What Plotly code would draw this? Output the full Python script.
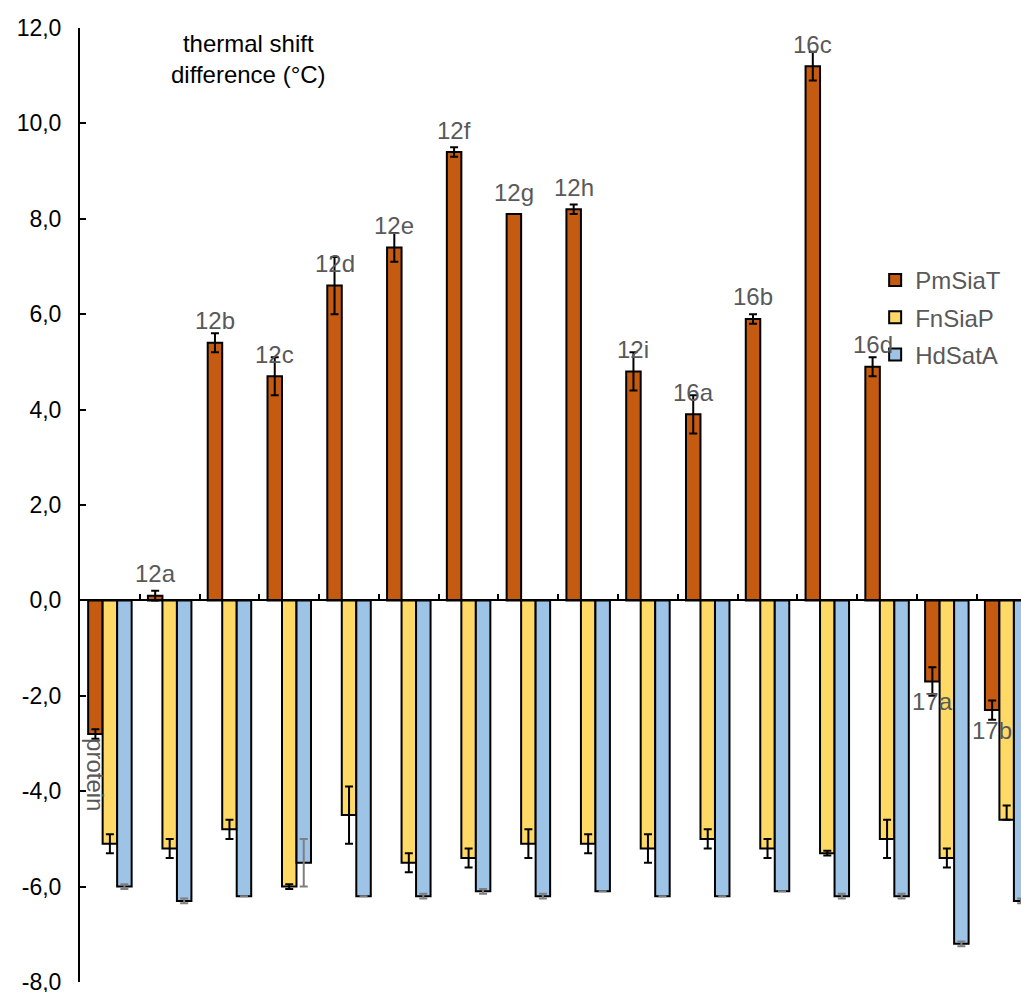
import plotly.graph_objects as go

# Ligands tested against three sialic-acid binding proteins
compounds = ["protein", "12a", "12b", "12c", "12d", "12e", "12f", "12g",
             "12h", "12i", "16a", "16b", "16c", "16d", "17a", "17b"]

pmsiat = [-2.8, 0.1, 5.4, 4.7, 6.6, 7.4, 9.4, 8.1, 8.2, 4.8, 3.9, 5.9, 11.2, 4.9, -1.7, -2.3]
pmsiat_err = [0.1, 0.1, 0.2, 0.4, 0.6, 0.3, 0.1, None, 0.1, 0.4, 0.4, 0.1, 0.3, 0.2, 0.3, 0.2]

fnsiap = [-5.1, -5.2, -4.8, -6.0, -4.5, -5.5, -5.4, -5.1, -5.1, -5.2, -5.0, -5.2, -5.3, -5.0, -5.4, -4.6]
fnsiap_err_up = [0.2, 0.2, 0.2, 0.05, 0.6, 0.2, 0.2, 0.3, 0.2, 0.3, 0.2, 0.2, 0.05, 0.4, 0.2, 0.3]
fnsiap_err_down = [0.2, 0.2, 0.2, 0.05, 0.6, 0.2, 0.2, 0.3, 0.2, 0.3, 0.2, 0.2, 0.05, 0.4, 0.2, 0.0]

hdsata = [-6.0, -6.3, -6.2, -5.5, -6.2, -6.2, -6.1, -6.2, -6.1, -6.2, -6.2, -6.1, -6.2, -6.2, -7.2, -6.3]
hdsata_err = [0.05, 0.05, None, 0.5, None, 0.05, 0.05, 0.05, None, None, None, None, 0.05, 0.05, 0.05, 0.05]

y_ticks = [-8, -6, -4, -2, 0, 2, 4, 6, 8, 10, 12]
y_tick_text = ["-8,0", "-6,0", "-4,0", "-2,0", "0,0", "2,0", "4,0", "6,0", "8,0", "10,0", "12,0"]

FONT = "Liberation Sans, Arial, Helvetica, sans-serif"
LABEL_GREY = "#595959"
BAR_GAP = 0.2725

fig = go.Figure()

fig.add_trace(go.Bar(
    name="PmSiaT", x=compounds, y=pmsiat,
    marker=dict(color="#C55A11", line=dict(color="black", width=2)),
    error_y=dict(type="data", array=pmsiat_err, color="black", thickness=2, width=4),
    legendgroup="a",
))
fig.add_trace(go.Bar(
    name="FnSiaP", x=compounds, y=fnsiap,
    marker=dict(color="#FFD966", line=dict(color="black", width=2)),
    error_y=dict(type="data", symmetric=False, array=fnsiap_err_up,
                 arrayminus=fnsiap_err_down, color="black", thickness=2, width=4),
    legendgroup="b",
))
fig.add_trace(go.Bar(
    name="HdSatA", x=compounds, y=hdsata,
    marker=dict(color="#9DC3E6", line=dict(color="black", width=2)),
    error_y=dict(type="data", array=hdsata_err, color="#7F7F7F", thickness=2, width=4),
    legendgroup="c",
))

# Compound names sit over (or under) the PmSiaT bar of each group
orange_offset = (1 - BAR_GAP) / 3
label_font = dict(family=FONT, size=24, color=LABEL_GREY)
annotations = []
for i, (name, v) in enumerate(zip(compounds, pmsiat)):
    if name == "protein":
        annotations.append(dict(
            x=i - orange_offset, y=v, xref="x", yref="y", text=name,
            textangle=90, showarrow=False, yanchor="top", yshift=-2,
            font=label_font))
    elif v >= 0:
        annotations.append(dict(
            x=i - orange_offset, y=v, xref="x", yref="y", text=name,
            showarrow=False, yanchor="middle", yshift=22, font=label_font))
    else:
        annotations.append(dict(
            x=i - orange_offset, y=v, xref="x", yref="y", text=name,
            showarrow=False, yanchor="middle", yshift=-20, font=label_font))

# Two-line axis caption inside the plot area
annotations.append(dict(
    x=0.179, y=0.967, xref="paper", yref="paper",
    text="thermal shift<br>difference (°C)", showarrow=False,
    xanchor="center", yanchor="middle", align="center",
    font=dict(family=FONT, size=24, color="black")))

fig.update_layout(
    width=1021, height=992,
    margin=dict(l=80, r=0, t=28, b=10, autoexpand=False),
    paper_bgcolor="white", plot_bgcolor="white",
    barmode="group", bargap=BAR_GAP, bargroupgap=0,
    font=dict(family=FONT, size=23, color="black"),
    showlegend=True,
    legend=dict(x=0.845, y=0.759, xanchor="left", yanchor="top",
                font=dict(family=FONT, size=24, color=LABEL_GREY),
                bgcolor="rgba(0,0,0,0)", tracegroupgap=3, itemwidth=30),
    annotations=annotations,
    xaxis=dict(
        range=[-0.5, len(compounds) - 0.76],
        showticklabels=False, showgrid=False, zeroline=False,
        showline=True, linecolor="black", linewidth=2,
        ticks="inside", tickson="boundaries", ticklen=5, tickwidth=1.5,
        tickcolor="black", anchor="free", position=0.4, automargin=False,
    ),
    yaxis=dict(
        range=[-8, 12], tickvals=y_ticks, ticktext=y_tick_text,
        showgrid=False, zeroline=False, automargin=False,
        showline=True, linecolor="black", linewidth=2,
        ticks="inside", ticklen=6, tickwidth=2, tickcolor="black",
        ticklabelstandoff=12, ticklabeloverflow="allow",
        tickfont=dict(family=FONT, size=23, color="black"),
    ),
)

fig.write_html("out.html")
